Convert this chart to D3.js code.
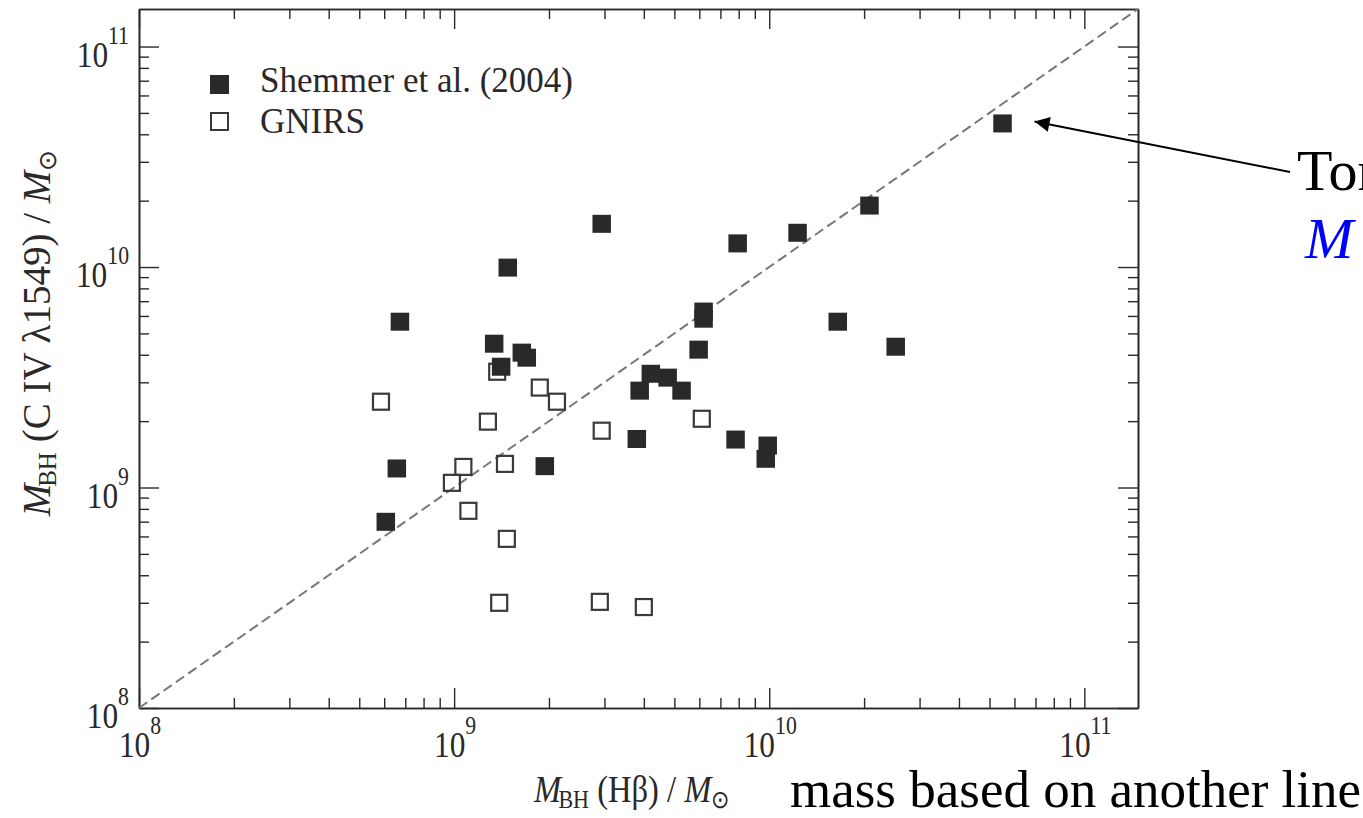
<!DOCTYPE html>
<html lang="en">
  <head>
    <meta charset="utf-8">
    <script src="https://d3js.org/d3.v7.min.js"></script>
    <style>
    body { margin: 0; background: #fff; }
    svg { display: block; overflow: hidden; }
    text { font-family: "Liberation Serif", "Times New Roman", serif; }
    </style>
  </head>
  <body>
    <div id="place"></div>
    <script type="text/javascript">
    // Shemmer et al. (2004): [M_BH(Hbeta), M_BH(CIV)]
    const shemmerX = [5.50e10, 2.08e10, 1.23e10, 7.94e9, 2.94e9, 1.48e9, 6.73e8, 6.19e9, 6.19e9, 5.97e9,
                      1.34e9, 1.64e9, 1.70e9, 1.41e9, 4.21e9, 4.76e9, 3.88e9, 5.27e9, 1.65e10, 2.52e10,
                      3.80e9, 7.82e9, 9.89e9, 9.75e9, 1.94e9, 6.58e8, 6.07e8];
    const shemmerY = [4.48e10, 1.90e10, 1.43e10, 1.28e10, 1.57e10, 9.94e9, 5.65e9, 6.28e9, 5.83e9, 4.22e9,
                      4.49e9, 4.09e9, 3.88e9, 3.53e9, 3.28e9, 3.15e9, 2.75e9, 2.75e9, 5.65e9, 4.35e9,
                      1.66e9, 1.65e9, 1.55e9, 1.35e9, 1.25e9, 1.22e9, 6.99e8];
    // GNIRS
    const gnirsX = [1.37e9, 5.86e8, 1.87e9, 2.12e9, 1.28e9, 2.94e9, 6.11e9, 1.07e9, 9.84e8, 1.45e9,
                    1.11e9, 1.47e9, 1.39e9, 2.90e9, 4.00e9];
    const gnirsY = [3.35e9, 2.45e9, 2.84e9, 2.45e9, 1.99e9, 1.81e9, 2.05e9, 1.24e9, 1.05e9, 1.28e9,
                    7.84e8, 5.85e8, 3.00e8, 3.03e8, 2.87e8];
    const majorTicks = [1e8, 1e9, 1e10, 1e11];
    const tickExponents = ["8", "9", "10", "11"];
    const legendLabels = ["Shemmer et al. (2004)", "GNIRS"];

    const width = 1363, height = 818;
    const margin = { top: 9, left: 139, right: 225, bottom: 110 };
    const ink = "#2b2829";

    const svg = d3.select('#place').append('svg')
        .attr('width', width)
        .attr('height', height);

    const x = d3.scaleLog().domain([1e8, 1.48e11]).range([margin.left, width - margin.right]);
    const y = d3.scaleLog().domain([1e8, 1.48e11]).range([height - margin.bottom, margin.top]);

    // minor ticks 2..9 per decade
    const minorTicks = [];
    majorTicks.forEach(function(m) {
        for (let k = 2; k <= 9; k++) {
            if (m * k <= 1.48e11) minorTicks.push(m * k);
        }
    });

    function styleAxis(g) {
        g.select(".domain").attr("stroke", ink).attr("stroke-width", 1.6);
        g.selectAll(".tick line").attr("stroke", ink).attr("stroke-width", 1.4);
        g.selectAll(".tick text").remove();
    }

    const x0 = y.range()[0], y0 = x.range()[0];
    // bottom / top, major + minor, ticks inward
    [[d3.axisBottom, x0, -20, majorTicks], [d3.axisBottom, x0, -10, minorTicks],
     [d3.axisTop, margin.top, -20, majorTicks], [d3.axisTop, margin.top, -10, minorTicks]].forEach(function(a) {
        svg.append("g")
            .attr("transform", `translate(0,${a[1]})`)
            .call(a[0](x).tickValues(a[3]).tickSize(a[2]).tickSizeOuter(0))
            .call(styleAxis);
    });
    [[d3.axisLeft, y0, -20, majorTicks], [d3.axisLeft, y0, -10, minorTicks],
     [d3.axisRight, x.range()[1], -20, majorTicks], [d3.axisRight, x.range()[1], -10, minorTicks]].forEach(function(a) {
        svg.append("g")
            .attr("transform", `translate(${a[1]},0)`)
            .call(a[0](y).tickValues(a[3]).tickSize(a[2]).tickSizeOuter(0))
            .call(styleAxis);
    });

    // tick labels 10^n (the figure's type is a little narrow)
    function powerLabel(sel, exp) {
        sel.append("tspan").text("10");
        sel.append("tspan").attr("dy", -23).style("font-size", "25px").text(exp);
    }
    majorTicks.forEach(function(v, i) {
        svg.append("text")
            .attr("transform", `translate(${x(v) + 1},${x0 + 49}) scale(0.87,1)`)
            .attr("text-anchor", "middle")
            .style("font-size", "36px")
            .attr("fill", ink)
            .call(powerLabel, tickExponents[i]);
        svg.append("text")
            .attr("transform", `translate(${y0 - 10},${y(v) + 20}) scale(0.87,1)`)
            .attr("text-anchor", "end")
            .style("font-size", "36px")
            .attr("fill", ink)
            .call(powerLabel, tickExponents[i]);
    });

    // one-to-one line
    svg.append("line")
        .attr("x1", x(1e8)).attr("y1", y(1e8))
        .attr("x2", x(1.48e11)).attr("y2", y(1.48e11))
        .attr("stroke", "#777")
        .attr("stroke-width", 2)
        .attr("stroke-dasharray", "10,5");

    // GNIRS open squares
    svg.append("g").selectAll("rect")
        .data(gnirsX.map((d, i) => [d, gnirsY[i]]))
        .enter().append("rect")
        .attr("x", d => x(d[0]) - 8)
        .attr("y", d => y(d[1]) - 8)
        .attr("width", 16).attr("height", 16)
        .attr("fill", "none")
        .attr("stroke", "#3a3a3a")
        .attr("stroke-width", 2.2);

    // Shemmer filled squares
    svg.append("g").selectAll("rect")
        .data(shemmerX.map((d, i) => [d, shemmerY[i]]))
        .enter().append("rect")
        .attr("x", d => x(d[0]) - 9.25)
        .attr("y", d => y(d[1]) - 9)
        .attr("width", 18.5).attr("height", 18)
        .attr("fill", ink);

    // legend
    const legend = svg.append("g");
    legend.append("rect").attr("x", 210).attr("y", 75).attr("width", 19).attr("height", 19).attr("fill", ink);
    legend.append("rect").attr("x", 211).attr("y", 113).attr("width", 17).attr("height", 17)
        .attr("fill", "none").attr("stroke", "#3a3a3a").attr("stroke-width", 2);
    legendLabels.forEach(function(t, i) {
        legend.append("text")
            .attr("x", 260).attr("y", 92 + i * 41)
            .style("font-size", "35px")
            .attr("fill", ink)
            .text(t);
    });

    // math labels
    function mathLabel(sel, parts) {
        let shift = 0;
        parts.forEach(function(p) {
            const ts = sel.append("tspan").text(p.t);
            const want = p.sub ? 6 : 0;
            if (want !== shift) { ts.attr("dy", want - shift); shift = want; }
            if (p.dx) ts.attr("dx", p.dx);
            if (p.it) ts.style("font-style", "italic");
            if (p.sub) ts.style("font-size", "25px");
        });
    }
    svg.append("text")
        .attr("transform", "translate(632,802) scale(0.88,1)")
        .attr("text-anchor", "middle")
        .style("font-size", "37px")
        .attr("fill", ink)
        .call(mathLabel, [{ t: "M", it: true }, { t: "BH", sub: true, dx: -3 }, { t: " (Hβ) / " },
                          { t: "M", it: true }, { t: "⊙", sub: true }]);

    svg.append("text")
        .attr("transform", "translate(50,333) rotate(-90)")
        .attr("text-anchor", "middle")
        .style("font-size", "39px")
        .attr("fill", ink)
        .call(mathLabel, [{ t: "M", it: true }, { t: "BH", sub: true, dx: -3 }, { t: " (C IV λ1549) / " },
                          { t: "M", it: true }, { t: "⊙", sub: true }]);

    // annotation
    svg.append("defs").append("marker")
        .attr("id", "head")
        .attr("viewBox", "0 0 10 10")
        .attr("refX", 10).attr("refY", 5)
        .attr("markerWidth", 18).attr("markerHeight", 15)
        .attr("markerUnits", "userSpaceOnUse")
        .attr("orient", "auto")
        .append("path").attr("d", "M0,0L10,5L0,10Z").attr("fill", "#000");

    const target = [x(shemmerX[0]) + 32, y(shemmerY[0]) - 2];
    svg.append("line")
        .attr("x1", 1290).attr("y1", 172)
        .attr("x2", target[0]).attr("y2", target[1])
        .attr("stroke", "#000")
        .attr("stroke-width", 2)
        .attr("marker-end", "url(#head)");

    svg.append("text")
        .attr("x", 1297).attr("y", 190)
        .style("font-size", "58px")
        .attr("fill", "#000")
        .text("Tom");
    svg.append("text")
        .attr("x", 1305).attr("y", 258)
        .style("font-size", "58px")
        .style("font-style", "italic")
        .attr("fill", "#0000ff")
        .text("M");
    svg.append("text")
        .attr("x", 790).attr("y", 807)
        .style("font-size", "53px")
        .attr("fill", "#000")
        .text("mass based on another line");
    </script>
  </body>
</html>
